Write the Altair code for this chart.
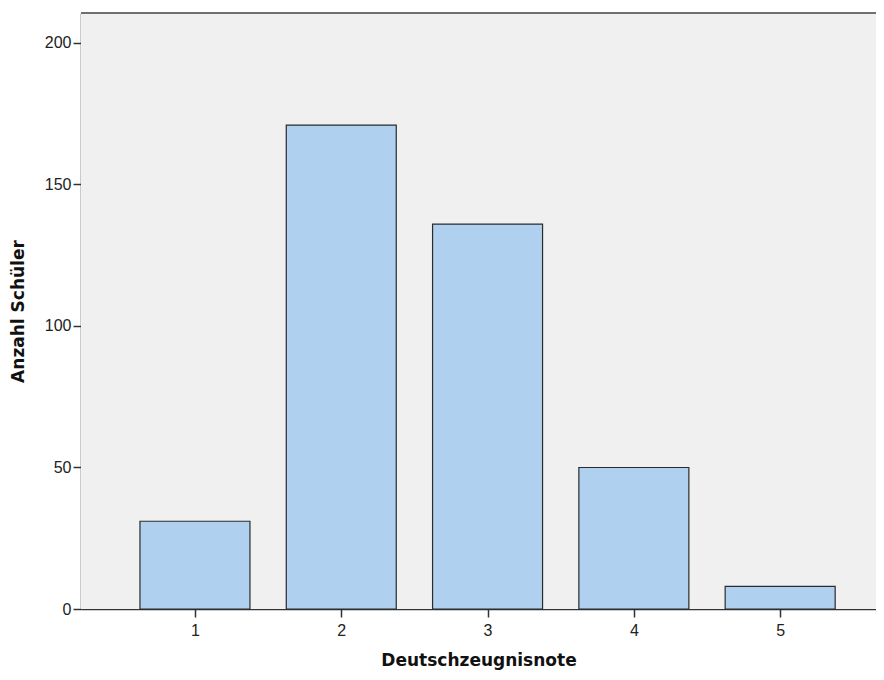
import altair as alt
import pandas as pd

grades = [1, 2, 3, 4, 5]
counts = [31, 171, 136, 50, 8]
y_ticks = [0, 50, 100, 150, 200]

df = pd.DataFrame({"Deutschzeugnisnote": grades, "Anzahl": counts})

W, H = 795, 596
STEP = 146.3
X0 = 0.221

x_scale = alt.Scale(domain=[X0, X0 + W / STEP], nice=False, zero=False, padding=0)
y_scale = alt.Scale(domain=[0, 210.6], nice=False, padding=0)

axis_common = dict(
    grid=False, tickSize=8, domainColor="#333333", domainWidth=1.5,
    tickColor="#333333", tickWidth=1.5,
    labelFont="Liberation Sans", labelFontSize=16, labelColor="#222222",
    titleFont="DejaVu Sans", titleFontSize=17, titleFontWeight="bold",
    titleColor="#111111",
)

bg = alt.Chart(df).mark_rect(fill="#F0F0F0", stroke=None).encode(
    x=alt.value(0), x2=alt.value(W), y=alt.value(0), y2=alt.value(H)
)

bars = alt.Chart(df).mark_bar(
    size=110, fill="#AFD0EE", stroke="#2b2b2b", strokeWidth=1.2
).encode(
    x=alt.X("Deutschzeugnisnote:Q", scale=x_scale,
            axis=alt.Axis(values=grades, format="d", title="Deutschzeugnisnote",
                          labelPadding=5, titlePadding=14, **axis_common)),
    y=alt.Y("Anzahl:Q", scale=y_scale,
            axis=alt.Axis(values=y_ticks, title="Anzahl Schüler",
                          labelPadding=2, titlePadding=17, **axis_common)),
)

top_border = alt.Chart(df).mark_rule(color="#707070", strokeWidth=2).encode(
    x=alt.value(0), x2=alt.value(W), y=alt.value(0)
)

chart = alt.layer(bg, bars, top_border).properties(
    width=W, height=H,
    autosize=alt.AutoSizeParams(type="none"),
    padding={"left": 73, "top": 5, "right": 0, "bottom": 63},
).configure_view(
    stroke=None
).configure(background="white")

chart.save("out.html", embed_options={"renderer": "svg", "actions": False})
